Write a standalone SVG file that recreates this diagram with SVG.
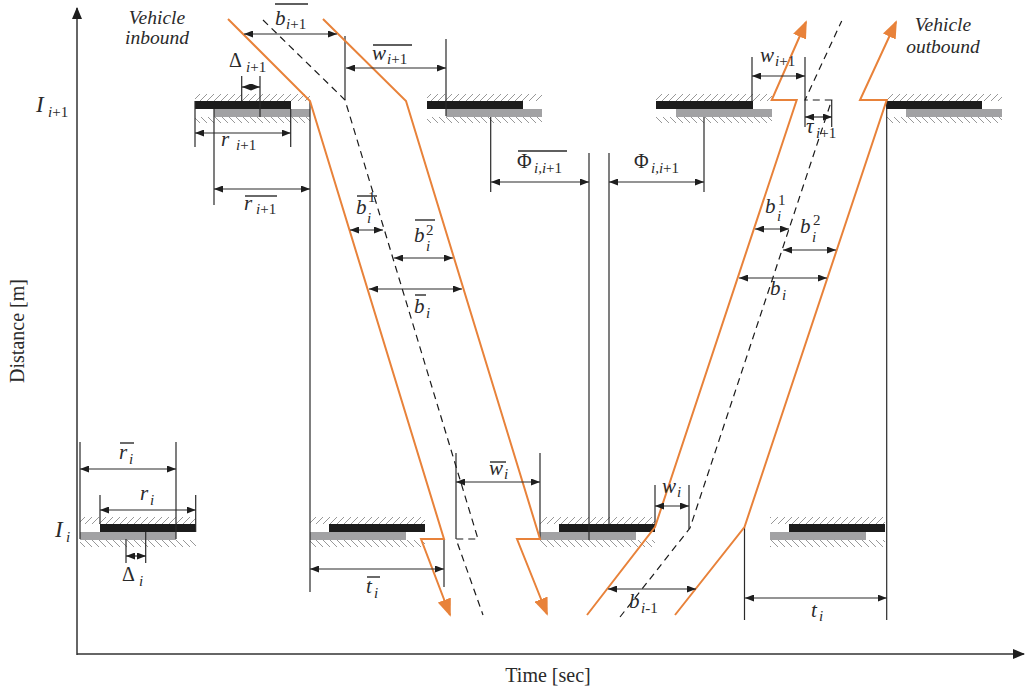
<svg xmlns="http://www.w3.org/2000/svg" width="1026" height="693" viewBox="0 0 1026 693">
<style>
.ax{stroke:#333;stroke-width:1.5;fill:none}
.v{stroke:#2a2a2a;stroke-width:1.2;fill:none}
.dim{stroke:#2a2a2a;stroke-width:1.2;fill:none;marker-start:url(#ah);marker-end:url(#ah)}
.or{stroke:#E8823A;stroke-width:2;fill:none;stroke-linejoin:miter}
.orA{marker-end:url(#oa)}
.dsh{stroke:#1a1a1a;stroke-width:1.2;fill:none;stroke-dasharray:7 5}
.blk{fill:#1c1c1c}
.gry{fill:#a2a2a4}
.hu{fill:url(#hu)}
.hd{fill:url(#hd)}
.ol{stroke:#2a2a2a;stroke-width:1.4}
text{font-family:'Liberation Serif','DejaVu Serif',serif;fill:#2a2a2a}
.m{font-style:italic;font-size:21px}
.g{font-style:normal;font-size:20px}
.s{font-style:italic;font-size:15px}
.n{font-style:normal}
.ax-t{font-size:20px}
.veh{font-style:italic;font-size:19.5px;text-anchor:middle}
</style>
<defs>
<marker id="ah" markerUnits="userSpaceOnUse" markerWidth="9" markerHeight="7" refX="9" refY="3.5" orient="auto-start-reverse"><path d="M0,0 L9,3.5 L0,7 z" fill="#1e1e1e"/></marker>
<marker id="oa" markerUnits="userSpaceOnUse" markerWidth="18" markerHeight="14" refX="16" refY="7" orient="auto"><path d="M0,0 L18,7 L0,14 z" fill="#E8823A"/></marker>
<marker id="axh" markerUnits="userSpaceOnUse" markerWidth="12" markerHeight="10" refX="11" refY="5" orient="auto"><path d="M0,0 L12,5 L0,10 z" fill="#1e1e1e"/></marker>
<pattern id="hu" width="7" height="7" patternUnits="userSpaceOnUse"><path d="M-1,8 L8,-1" stroke="#8c8c8c" stroke-width="0.9"/></pattern>
<pattern id="hd" width="7" height="7" patternUnits="userSpaceOnUse"><path d="M-1,-1 L8,8" stroke="#8c8c8c" stroke-width="0.9"/></pattern>
</defs>
<rect width="1026" height="693" fill="#fff"/>

<g id="axes">
<path class="ax" d="M77,655 L77,8" marker-end="url(#axh)"/>
<path class="ax" d="M77,654 L1024,654" marker-end="url(#axh)"/>
<text class="ax-t" transform="translate(24,331) rotate(-90)" text-anchor="middle">Distance [m]</text>
<text class="ax-t" x="548" y="682" text-anchor="middle">Time [sec]</text>
<text class="m" x="36" y="112" style="font-size:23px">I</text><text class="s" x="48" y="117">i<tspan class="n">+1</tspan></text>
<text class="m" x="55" y="537" style="font-size:23px">I</text><text class="s" x="66" y="542">i</text>
</g>

<g id="int-top-1">
<rect class="hu" x="195" y="94" width="115" height="7"/>
<rect class="blk" x="195" y="101" width="96" height="8"/>
<rect class="gry" x="214" y="109" width="96" height="8"/>
<rect class="hd" x="195" y="117" width="115" height="6"/>
</g>
<g id="int-top-2">
<rect class="hu" x="427" y="94" width="115" height="7"/>
<rect class="blk" x="427" y="101" width="96" height="8"/>
<rect class="gry" x="446" y="109" width="96" height="8"/>
<rect class="hd" x="427" y="117" width="115" height="6"/>
</g>
<g id="int-top-3">
<rect class="hu" x="656" y="94" width="116" height="7"/>
<rect class="blk" x="656" y="101" width="97" height="8"/>
<rect class="gry" x="676" y="109" width="96" height="8"/>
<rect class="hd" x="656" y="117" width="116" height="6"/>
</g>
<g id="int-top-4">
<rect class="hu" x="886" y="94" width="116" height="7"/>
<rect class="blk" x="886" y="101" width="96" height="8"/>
<rect class="gry" x="906" y="109" width="96" height="8"/>
<rect class="hd" x="886" y="117" width="116" height="6"/>
</g>
<g id="int-bot-1">
<rect class="hu" x="80" y="517" width="116" height="7"/>
<rect class="blk" x="100" y="524" width="96" height="8"/>
<rect class="gry" x="80" y="532" width="96" height="8"/>
<rect class="hd" x="80" y="540" width="116" height="7"/>
</g>
<g id="int-bot-2">
<rect class="hu" x="310" y="517" width="115" height="7"/>
<rect class="blk" x="329" y="524" width="96" height="8"/>
<rect class="gry" x="310" y="532" width="96" height="8"/>
<rect class="hd" x="310" y="540" width="115" height="7"/>
</g>
<g id="int-bot-3">
<rect class="hu" x="540" y="517" width="115" height="7"/>
<rect class="blk" x="559" y="524" width="96" height="8"/>
<rect class="gry" x="540" y="532" width="96" height="8"/>
<rect class="hd" x="540" y="540" width="115" height="7"/>
</g>
<g id="int-bot-4">
<rect class="hu" x="770" y="517" width="115" height="7"/>
<rect class="blk" x="789" y="524" width="96" height="8"/>
<rect class="gry" x="770" y="532" width="96" height="8"/>
<rect class="hd" x="770" y="540" width="115" height="7"/>
</g>

<g id="extension-lines" class="v">
<path d="M195,101V147 M290.7,109V147 M214,109V205 M310,101V592 M241.7,76V101 M260,76V117 M345,36V100 M446,39V116 M490.7,117V192 M589,153V540 M609,153V524 M704,117V192 M752,57V101 M805,57V127 M831.7,100V127 M886.7,100V620 M744.5,527V620 M80,442V539 M176,442V539 M100,495V524 M195.7,495V532 M126,539V563 M145.7,532V563 M444,539V587 M456,453V539 M540,453V540 M655,485V524 M689,485V529"/>
</g>

<g id="trajectories">
<path class="or orA" d="M228,19 L310,101 L444,539 L421,539 L450,615"/>
<path class="or orA" d="M323,19 L406,101 L540,539 L517,539 L547,614"/>
<path class="dsh" d="M263,20 L345,100 L478,539 L456,539 L483,615"/>
<path class="or orA" d="M587,615 L655,527 L796.7,100 L771.7,100 L806,22"/>
<path class="or orA" d="M675,615 L744.5,527 L886.7,100 L860,100 L896,22"/>
<path class="dsh" d="M620,617 L690,528 L831.7,100 L805,100 L841.7,21"/>
</g>

<g id="dimensions" class="dim">
<path d="M244,34H337"/>
<path d="M346,68H446"/>
<path d="M242,87H260"/>
<path d="M195,133H290.7"/>
<path d="M214,189H310"/>
<path d="M491,182H589"/>
<path d="M609,182H704"/>
<path d="M752,76H805"/>
<path d="M805,117H832"/>
<path d="M350,230H383"/>
<path d="M394,258H453"/>
<path d="M369,289H462"/>
<path d="M755,229H789"/>
<path d="M783,250H836"/>
<path d="M739,278H827"/>
<path d="M80,469H176"/>
<path d="M100,510H195.7"/>
<path d="M126,556H146"/>
<path d="M310,569H444"/>
<path d="M456,482H540"/>
<path d="M655,506H689"/>
<path d="M608,589H696"/>
<path d="M745,598H886.7"/>
</g>

<g id="labels">
<text class="veh" x="157" y="24">Vehicle</text>
<text class="veh" x="157" y="44">inbound</text>
<text class="veh" x="943" y="31">Vehicle</text>
<text class="veh" x="943" y="53">outbound</text>

<text class="m" x="275" y="25">b</text><text class="s" x="286" y="29">i<tspan class="n">+1</tspan></text><line class="ol" x1="275" y1="4" x2="308" y2="4"/>
<text class="m" x="372" y="60">w</text><text class="s" x="387" y="64">i<tspan class="n">+1</tspan></text><line class="ol" x1="373" y1="45" x2="412" y2="45"/>
<text class="g" x="229" y="67">Δ</text><text class="s" x="246" y="72">i<tspan class="n">+1</tspan></text>
<text class="m" x="221" y="146">r</text><text class="s" x="236" y="150">i<tspan class="n">+1</tspan></text>
<text class="m" x="244" y="210">r</text><text class="s" x="256" y="214">i<tspan class="n">+1</tspan></text><line class="ol" x1="245" y1="196" x2="277" y2="196"/>
<text class="g" x="517" y="168">Φ</text><text class="s" x="534" y="173">i,i<tspan class="n">+1</tspan></text><line class="ol" x1="518" y1="151" x2="567" y2="151"/>
<text class="g" x="634" y="168">Φ</text><text class="s" x="651" y="173">i,i<tspan class="n">+1</tspan></text>
<text class="m" x="760" y="62">w</text><text class="s" x="775" y="66">i<tspan class="n">+1</tspan></text>
<text class="m" x="806" y="133">τ</text><text class="s" x="816" y="138">i<tspan class="n">+1</tspan></text>
<text class="m" x="356" y="214">b</text><text class="s n" x="368" y="202">1</text><text class="s" x="367" y="223">i</text><line class="ol" x1="357" y1="196" x2="377" y2="196"/>
<text class="m" x="414" y="242">b</text><text class="s n" x="426" y="235">2</text><text class="s" x="426" y="251">i</text><line class="ol" x1="415" y1="220" x2="435" y2="220"/>
<text class="m" x="414" y="313">b</text><text class="s" x="426" y="318">i</text><line class="ol" x1="415" y1="295" x2="426" y2="295"/>
<text class="m" x="765" y="213">b</text><text class="s n" x="778" y="205">1</text><text class="s" x="777" y="221">i</text>
<text class="m" x="800" y="233">b</text><text class="s n" x="813" y="225">2</text><text class="s" x="812" y="242">i</text>
<text class="m" x="770" y="295">b</text><text class="s" x="782" y="300">i</text>
<text class="m" x="119" y="459">r</text><text class="s" x="129" y="464">i</text><line class="ol" x1="120" y1="443" x2="134" y2="443"/>
<text class="m" x="140" y="500">r</text><text class="s" x="150" y="505">i</text>
<text class="g" x="122" y="581">Δ</text><text class="s" x="139" y="586">i</text>
<text class="m" x="366" y="593">t</text><text class="s" x="374" y="598">i</text><line class="ol" x1="367" y1="577" x2="380" y2="577"/>
<text class="m" x="489" y="475">w</text><text class="s" x="504" y="479">i</text><line class="ol" x1="490" y1="462" x2="506" y2="462"/>
<text class="m" x="662" y="493">w</text><text class="s" x="677" y="497">i</text>
<text class="m" x="629" y="608">b</text><text class="s" x="641" y="613">i<tspan class="n">-1</tspan></text>
<text class="m" x="811" y="617">t</text><text class="s" x="819" y="621">i</text>
</g>
</svg>
